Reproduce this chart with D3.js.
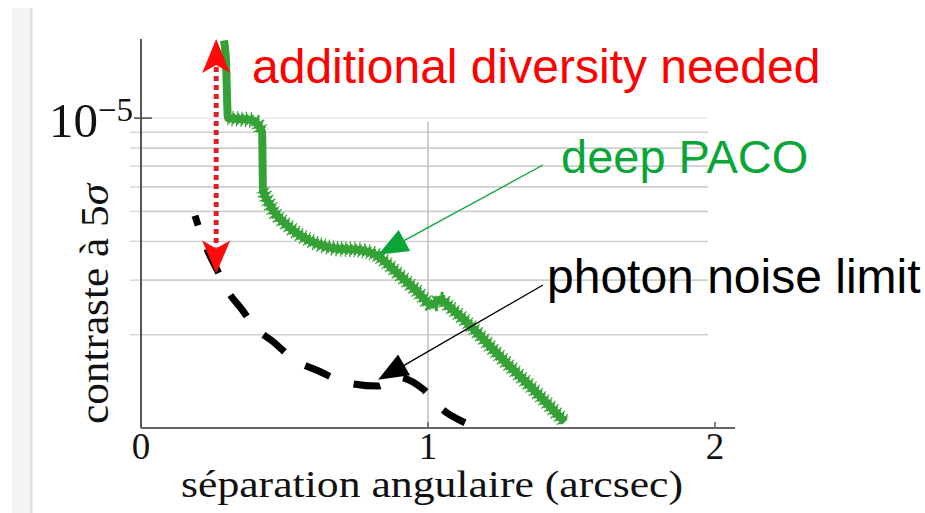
<!DOCTYPE html>
<html>
<head>
<meta charset="utf-8">
<script src="https://cdn.jsdelivr.net/npm/d3@7"></script>
<style>
  html, body { margin: 0; padding: 0; background: #fff; }
  svg { display: block; }
</style>
</head>
<body>
<svg id="chart" width="925" height="513"></svg>
<script>
// Detection limit curves: angular separation (arcsec) vs 5-sigma contrast
const sepPaco = [0.289, 0.296, 0.303, 0.345, 0.387, 0.408, 0.422, 0.425, 0.449, 0.519, 0.589, 0.683, 0.753, 0.822, 0.892, 0.962, 1.014, 1.042, 1.077, 1.136, 1.251, 1.366, 1.477];
const contrastPaco = [1.78e-5, 1.536e-5, 1.0e-5, 9.93e-6, 9.85e-6, 9.49e-6, 9.01e-6, 5.87e-6, 5.25e-6, 4.43e-6, 4.02e-6, 3.79e-6, 3.76e-6, 3.60e-6, 3.17e-6, 2.76e-6, 2.50e-6, 2.60e-6, 2.45e-6, 2.19e-6, 1.70e-6, 1.335e-6, 1.045e-6];

const sepPhoton = [0.188, 0.223, 0.268, 0.303, 0.352, 0.397, 0.460, 0.530, 0.617, 0.711, 0.826, 0.892, 0.983, 1.049, 1.129];
const contrastPhoton = [4.84e-6, 3.91e-6, 3.20e-6, 2.76e-6, 2.41e-6, 2.11e-6, 1.90e-6, 1.67e-6, 1.53e-6, 1.405e-6, 1.365e-6, 1.46e-6, 1.335e-6, 1.15e-6, 1.04e-6];

const xTicks = [0, 1, 2];
const yLabelledTicks = [1e-5];
const yMinorTicks = [9e-6, 8e-6, 7e-6, 6e-6, 5e-6, 4e-6, 3e-6, 2e-6];

// Annotations (in data units)
const diversityGap = { sep: 0.262, low: 3.15e-6, high: 1.8e-5 };
const pacoPointer = { sep: 0.826, contrast: 3.62e-6 };
const photonPointer = { sep: 0.826, contrast: 1.43e-6 };

const svg = d3.select("#chart");
const serif = "'Liberation Serif', 'Times New Roman', serif";
const sans = "'Liberation Sans', Arial, sans-serif";

const x = d3.scaleLinear().domain([0, 2]).range([141, 715]);
const y = d3.scaleLog().domain([1e-6, 1.8e-5]).range([428, 39]);
const xMax = 2.07;

// left page strip
svg.append("rect").attr("x", 12).attr("y", 8).attr("width", 19).attr("height", 505).attr("fill", "#f4f4f4");
svg.append("rect").attr("x", 30).attr("y", 8).attr("width", 2.5).attr("height", 505).attr("fill", "#e2e2e2");

// horizontal grid
const gridRight = 708;
svg.append("g").selectAll("line").data(yMinorTicks).join("line")
  .attr("x1", x(0)).attr("x2", gridRight)
  .attr("y1", d => y(d)).attr("y2", d => y(d))
  .attr("stroke", "#cfcfcf").attr("stroke-width", 1.6);
svg.append("g").selectAll("line").data(yLabelledTicks).join("line")
  .attr("x1", x(0)).attr("x2", gridRight)
  .attr("y1", d => y(d)).attr("y2", d => y(d))
  .attr("stroke", "#ececec").attr("stroke-width", 1.6);

// vertical grid at 1 arcsec
svg.append("line").attr("x1", x(1)).attr("x2", x(1)).attr("y1", 122).attr("y2", y(1e-6))
  .attr("stroke", "#c4c4c4").attr("stroke-width", 1.6);

// y minor ticks
svg.append("g").selectAll("line").data(yMinorTicks).join("line")
  .attr("x1", x(0) - 11).attr("x2", x(0))
  .attr("y1", d => y(d)).attr("y2", d => y(d))
  .attr("stroke", "#d6d6d6").attr("stroke-width", 1.4);

// axes
svg.append("line").attr("x1", x(0)).attr("x2", x(0)).attr("y1", y(1.8e-5)).attr("y2", y(1e-6))
  .attr("stroke", "#555").attr("stroke-width", 2);
svg.append("line").attr("x1", x(0)).attr("x2", x(xMax)).attr("y1", y(1e-6)).attr("y2", y(1e-6))
  .attr("stroke", "#666").attr("stroke-width", 2);

// major y tick
svg.append("g").selectAll("line").data(yLabelledTicks).join("line")
  .attr("x1", x(0) - 7).attr("x2", x(0) + 11)
  .attr("y1", d => y(d)).attr("y2", d => y(d))
  .attr("stroke", "#555").attr("stroke-width", 1.6);

// x ticks
svg.append("g").selectAll("line").data(xTicks.filter(d => d > 0)).join("line")
  .attr("x1", d => x(d)).attr("x2", d => x(d))
  .attr("y1", y(1e-6) - 6).attr("y2", y(1e-6))
  .attr("stroke", "#666").attr("stroke-width", 1.6);

// x tick labels
svg.append("g").selectAll("text").data(xTicks).join("text")
  .attr("x", d => x(d)).attr("y", 459)
  .attr("text-anchor", "middle")
  .attr("font-family", serif).attr("font-size", 37).attr("fill", "#111")
  .text(d => d);

// y tick label 10^-5
yLabelledTicks.forEach(v => {
  const exp = Math.round(Math.log10(v));
  const t = svg.append("text")
    .attr("x", 133).attr("y", y(v) + 19)
    .attr("text-anchor", "end")
    .attr("font-family", serif).attr("fill", "#111");
  t.append("tspan").attr("font-size", 49).text("10");
  t.append("tspan").attr("font-size", 33).attr("dy", -16).text("\u2212" + Math.abs(exp));
});

// axis titles
svg.append("text")
  .attr("x", 432).attr("y", 497)
  .attr("text-anchor", "middle")
  .attr("font-family", serif).attr("font-size", 38).attr("fill", "#111")
  .attr("textLength", 502).attr("lengthAdjust", "spacingAndGlyphs")
  .text("séparation angulaire (arcsec)");

const yTitle = svg.append("text")
  .attr("transform", "translate(108,304) rotate(-90)")
  .attr("text-anchor", "middle")
  .attr("font-family", serif).attr("font-size", 39).attr("fill", "#111")
  .attr("textLength", 240).attr("lengthAdjust", "spacingAndGlyphs");
yTitle.append("tspan").text("contraste à 5");
yTitle.append("tspan").attr("font-style", "italic").text("σ");

// photon noise limit (dashed)
const photon = sepPhoton.map((s, i) => [x(s), y(contrastPhoton[i])]);
svg.append("path")
  .attr("d", d3.line().curve(d3.curveMonotoneX)(photon))
  .attr("fill", "none").attr("stroke", "#000").attr("stroke-width", 7)
  .attr("stroke-dasharray", "27,25").attr("stroke-dashoffset", 17);

// deep PACO curve: solid core plus marker teeth along non-vertical runs
const green = "#36a236";
const paco = sepPaco.map((s, i) => [x(s), y(contrastPaco[i])]);
svg.append("path")
  .attr("d", d3.line().curve(d3.curveMonotoneX)(paco))
  .attr("fill", "none").attr("stroke", green).attr("stroke-width", 8)
  .attr("stroke-linejoin", "round");

const runs = [];
let run = [paco[0]];
for (let i = 1; i < paco.length; i++) {
  const dx = Math.abs(paco[i][0] - paco[i - 1][0]);
  const dy = Math.abs(paco[i][1] - paco[i - 1][1]);
  if (dy > 3 * dx) {
    if (run.length > 1) runs.push(run);
    run = [paco[i]];
  } else {
    run.push(paco[i]);
  }
}
if (run.length > 1) runs.push(run);
svg.append("g").selectAll("path").data(runs).join("path")
  .attr("d", d => d3.line().curve(d3.curveMonotoneX)(d))
  .attr("fill", "none").attr("stroke", green).attr("stroke-width", 11)
  .attr("stroke-dasharray", "2.2,2.3");
svg.append("g").selectAll("path").data(runs).join("path")
  .attr("d", d => d3.line().curve(d3.curveMonotoneX)(d))
  .attr("fill", "none").attr("stroke", green).attr("stroke-width", 15.5)
  .attr("stroke-dasharray", "1.2,3.3").attr("stroke-dashoffset", 0.5);

// arrowhead helper: filled triangle with optional notch
function arrowHead(tip, from, len, half, notch) {
  const ang = Math.atan2(tip[1] - from[1], tip[0] - from[0]);
  const ux = Math.cos(ang), uy = Math.sin(ang);
  const bx = tip[0] - ux * len, by = tip[1] - uy * len;
  const nx = tip[0] - ux * (len - notch), ny = tip[1] - uy * (len - notch);
  return `M${tip[0]},${tip[1]} L${bx - uy * half},${by + ux * half} L${nx},${ny} L${bx + uy * half},${by - ux * half} Z`;
}

// red double arrow (dotted)
const rx = x(diversityGap.sep);
const rTop = [rx, y(diversityGap.high)];
const rBot = [rx, y(diversityGap.low)];
svg.append("line").attr("x1", rx).attr("x2", rx).attr("y1", rTop[1] + 28).attr("y2", rBot[1] - 26)
  .attr("stroke", "#dc2129").attr("stroke-width", 5).attr("stroke-dasharray", "5,4");
svg.append("path").attr("d", arrowHead(rTop, rBot, 34, 14, 8)).attr("fill", "#ff0a0a");
svg.append("path").attr("d", arrowHead(rBot, rTop, 33, 14, 8)).attr("fill", "#ff0a0a");

// pointer arrows
const pacoTip = [x(pacoPointer.sep), y(pacoPointer.contrast)];
const pacoFrom = [543, 165];
svg.append("line").attr("x1", pacoFrom[0]).attr("y1", pacoFrom[1]).attr("x2", pacoTip[0] + 20).attr("y2", pacoTip[1] - 11)
  .attr("stroke", "#0aa537").attr("stroke-width", 1.3);
svg.append("path").attr("d", arrowHead(pacoTip, pacoFrom, 30, 12, 0)).attr("fill", "#0aa537");

const photonTip = [x(photonPointer.sep), y(photonPointer.contrast)];
const photonFrom = [543, 285];
svg.append("line").attr("x1", photonFrom[0]).attr("y1", photonFrom[1]).attr("x2", photonTip[0] + 20).attr("y2", photonTip[1] - 11)
  .attr("stroke", "#000").attr("stroke-width", 1.3);
svg.append("path").attr("d", arrowHead(photonTip, photonFrom, 30, 12, 0)).attr("fill", "#000");

// annotation labels
svg.append("text").attr("x", 252).attr("y", 83)
  .attr("font-family", sans).attr("font-size", 48).attr("fill", "#ff0000")
  .text("additional diversity needed");
svg.append("text").attr("x", 561).attr("y", 173)
  .attr("font-family", sans).attr("font-size", 47).attr("fill", "#0aa537")
  .text("deep PACO");
svg.append("text").attr("x", 547).attr("y", 293)
  .attr("font-family", sans).attr("font-size", 48).attr("fill", "#000")
  .text("photon noise limit");
</script>
</body>
</html>
